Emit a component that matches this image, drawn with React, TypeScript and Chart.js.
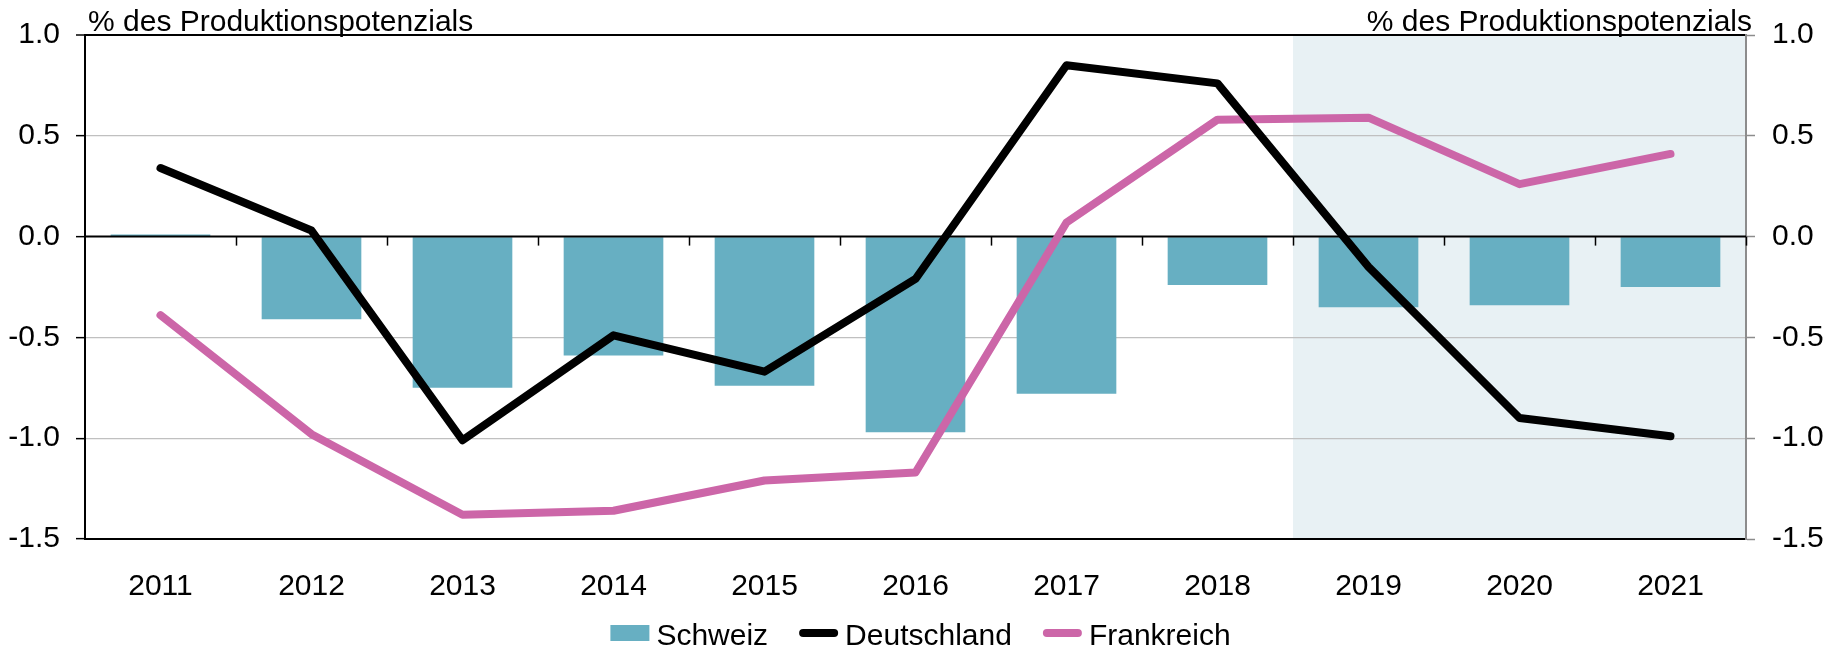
import React, { useEffect, useRef } from "react";
import { Chart, registerables } from "chart.js";

Chart.register(...registerables);

// ---- data ----
const years = ["2011", "2012", "2013", "2014", "2015", "2016", "2017", "2018", "2019", "2020", "2021"];
const schweiz = [0.01, -0.41, -0.75, -0.59, -0.74, -0.97, -0.78, -0.24, -0.35, -0.34, -0.25];
const deutschland = [0.34, 0.03, -1.01, -0.49, -0.67, -0.21, 0.85, 0.76, -0.15, -0.9, -0.99];
const frankreich = [-0.39, -0.98, -1.38, -1.36, -1.21, -1.17, 0.07, 0.58, 0.59, 0.26, 0.41];
const yTicks = [1.0, 0.5, 0.0, -0.5, -1.0, -1.5];
const axisTitle = "% des Produktionspotenzials";
const forecastStart = "2019";
const seriesNames = ["Schweiz", "Deutschland", "Frankreich"];

const FONT = '"Liberation Sans", Arial, Helvetica, sans-serif';
const FS = 30;
const C_BAR = "#67afc2";
const C_DE = "#000000";
const C_FR = "#cc66a8";
const C_SHADE = "#e8f1f4";
const C_GRID = "#c0c0c0";
const C_RIGHT = "#8c8c8c";

const decorPlugin = {
  id: "decor",
  beforeDraw(chart: any) {
    const { ctx, chartArea, scales } = chart;
    const x = scales.x;
    const idx = years.indexOf(forecastStart);
    const x0 = (x.getPixelForValue(idx - 1) + x.getPixelForValue(idx)) / 2;
    ctx.save();
    ctx.fillStyle = C_SHADE;
    ctx.fillRect(x0, chartArea.top, chartArea.right - x0, chartArea.bottom - chartArea.top);
    ctx.restore();
  },
  afterDatasetDraw(chart: any, args: any) {
    if (args.index !== 0) return;
    const { ctx, chartArea, scales } = chart;
    const y0 = scales.y.getPixelForValue(0);
    const x = scales.x;
    ctx.save();
    ctx.strokeStyle = "#000";
    ctx.lineWidth = 2;
    ctx.beginPath();
    ctx.moveTo(chartArea.left, y0);
    ctx.lineTo(chartArea.right, y0);
    ctx.stroke();
    ctx.lineWidth = 1.5;
    for (let i = 1; i <= years.length; i++) {
      const xb = i < years.length
        ? (x.getPixelForValue(i - 1) + x.getPixelForValue(i)) / 2
        : chartArea.right;
      ctx.beginPath();
      ctx.moveTo(Math.round(xb) + 0.5, y0);
      ctx.lineTo(Math.round(xb) + 0.5, y0 + 9);
      ctx.stroke();
    }
    ctx.restore();
  },
  afterDraw(chart: any) {
    const { ctx, chartArea } = chart;
    ctx.save();
    ctx.font = `${FS}px ${FONT}`;
    ctx.fillStyle = "#000";
    ctx.textBaseline = "alphabetic";
    ctx.textAlign = "left";
    ctx.fillText(axisTitle, chartArea.left + 3, 31);
    ctx.textAlign = "right";
    ctx.fillText(axisTitle, chartArea.right + 6, 31);

    // legend
    const items = chart.data.datasets
      .slice()
      .sort((a: any, b: any) => seriesNames.indexOf(a.label) - seriesNames.indexOf(b.label))
      .map((d: any) => ({ label: d.label, type: d.type, color: d.type === "bar" ? d.backgroundColor : d.borderColor }));
    const symW = 39;
    const gapSym = 7;
    const gapItem = 31;
    ctx.textAlign = "left";
    const widths = items.map((it: any) => symW + gapSym + ctx.measureText(it.label).width);
    const total = widths.reduce((a: number, b: number) => a + b, 0) + gapItem * (items.length - 1);
    let cx = chart.width / 2 + 6 - total / 2;
    const cy = 633;
    items.forEach((it: any, i: number) => {
      if (it.type === "bar") {
        ctx.fillStyle = it.color;
        ctx.fillRect(cx, cy - 8, symW, 16);
      } else {
        ctx.strokeStyle = it.color;
        ctx.lineWidth = 8;
        ctx.lineCap = "round";
        ctx.beginPath();
        ctx.moveTo(cx + 4, cy);
        ctx.lineTo(cx + symW - 4, cy);
        ctx.stroke();
      }
      ctx.fillStyle = "#000";
      ctx.fillText(it.label, cx + symW + gapSym, cy + 12);
      cx += widths[i] + gapItem;
    });
    ctx.restore();
  },
};

const yTickCallback = (v: any) => Number(v).toFixed(1);

export default function App() {
  const ref = useRef<HTMLCanvasElement | null>(null);

  useEffect(() => {
    if (!ref.current) return;
    const chart = new Chart(ref.current, {
      type: "bar",
      data: {
        labels: years,
        datasets: [
          {
            type: "bar",
            label: seriesNames[0],
            data: schweiz,
            backgroundColor: C_BAR,
            borderWidth: 0,
            categoryPercentage: 1,
            barPercentage: 0.66,
            yAxisID: "y",
            order: 2,
          } as any,
          {
            type: "line",
            label: seriesNames[1],
            data: deutschland,
            borderColor: C_DE,
            backgroundColor: C_DE,
            borderWidth: 8,
            pointRadius: 0,
            borderCapStyle: "round",
            borderJoinStyle: "round",
            tension: 0,
            yAxisID: "y",
            order: 0,
          } as any,
          {
            type: "line",
            label: seriesNames[2],
            data: frankreich,
            borderColor: C_FR,
            backgroundColor: C_FR,
            borderWidth: 8,
            pointRadius: 0,
            borderCapStyle: "round",
            borderJoinStyle: "round",
            tension: 0,
            yAxisID: "y",
            order: 1,
          } as any,
        ],
      },
      options: {
        responsive: false,
        animation: false,
        devicePixelRatio: 1,
        layout: { padding: { top: 34, left: 0, right: 0, bottom: 0 } },
        plugins: {
          legend: { display: false },
          tooltip: { enabled: false },
          title: { display: false },
        },
        scales: {
          x: {
            offset: true,
            grid: { display: false },
            border: { display: true, color: "#000", width: 2 },
            ticks: {
              font: { family: FONT, size: FS },
              color: "#000",
              padding: 22,
              maxRotation: 0,
              autoSkip: false,
            },
            afterFit: (s: any) => {
              s.height = 111;
            },
          },
          y: {
            position: "left",
            min: -1.5,
            max: 1.0,
            afterFit: (s: any) => {
              s.width = 85;
            },
            afterBuildTicks: (s: any) => {
              s.ticks = yTicks.map((v) => ({ value: v }));
            },
            ticks: {
              font: { family: FONT, size: FS },
              color: "#000",
              padding: 16,
              callback: yTickCallback,
            },
            grid: {
              color: (c: any) => {
                const v = c.tick ? c.tick.value : null;
                if (v === 1) return "#000";
                if (v === 0 || v === -1.5) return "rgba(0,0,0,0)";
                return C_GRID;
              },
              lineWidth: (c: any) => (c.tick && c.tick.value === 1 ? 2 : 1.3),
              tickColor: "#000",
              tickLength: 9,
              tickWidth: 1.5,
              drawTicks: true,
            },
            border: { color: "#000", width: 2 },
          },
          y2: {
            position: "right",
            min: -1.5,
            max: 1.0,
            afterFit: (s: any) => {
              s.width = 83;
            },
            afterBuildTicks: (s: any) => {
              s.ticks = yTicks.map((v) => ({ value: v }));
            },
            ticks: {
              font: { family: FONT, size: FS },
              color: "#000",
              padding: 17,
              callback: yTickCallback,
            },
            grid: {
              drawOnChartArea: false,
              tickColor: C_RIGHT,
              tickLength: 9,
              tickWidth: 1.5,
              drawTicks: true,
            },
            border: { color: C_RIGHT, width: 2 },
          },
        },
      },
      plugins: [decorPlugin],
    });
    return () => chart.destroy();
  }, []);

  return (
    <div style={{ position: "absolute", left: 0, top: 0, width: 1829, height: 650, background: "#fff" }}>
      <canvas ref={ref} width={1829} height={650} style={{ width: 1829, height: 650, display: "block" }} />
    </div>
  );
}
